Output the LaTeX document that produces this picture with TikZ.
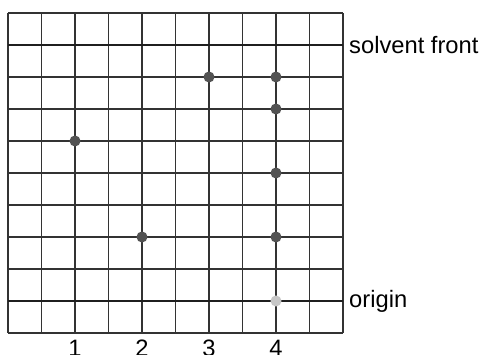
\documentclass[tikz,border=0pt]{standalone}
\usepackage{fontspec}
\setmainfont{Liberation Sans}
\tikzset{gridline/.style={black!80,line width=0.7pt},
 frontline/.style={black!88,line width=1.3pt},
 spot/.style={circle,fill=black!68,inner sep=0pt,minimum size=6.3pt},
 startspot/.style={spot,fill=black!22}}
\begin{document}
\begin{tikzpicture}[x=0.67cm,y=0.64cm,font=\fontsize{13.5}{16}\selectfont]
 \useasboundingbox (-0.239,-0.6875) rectangle (14.239,10.406);
 \foreach \i in {0,...,10} \draw[gridline] (\i,0)--(\i,10);
 \foreach \j in {0,...,10} \draw[gridline] (0,\j)--(10,\j);
 \draw[frontline] (0,1)--(10,1); \draw[frontline] (0,9)--(10,9);
 \node[right] (sfront) at (10,9) {solvent front};
 \node[right] (origin) at (10,1) {origin};
 \foreach \n in {1,...,4} \node[anchor=base] (lane\n) at (2*\n,-0.74) {\n};
 \node[spot] (a1) at (2,6) {}; \node[spot] (b1) at (4,3) {};
 \node[spot] (c1) at (6,8) {};
 \node[spot] (d1) at (8,8) {}; \node[spot] (d2) at (8,7) {};
 \node[spot] (d3) at (8,5) {}; \node[spot] (d4) at (8,3) {};
 \node[startspot] (d0) at (8,1) {};
\end{tikzpicture}
\end{document}
